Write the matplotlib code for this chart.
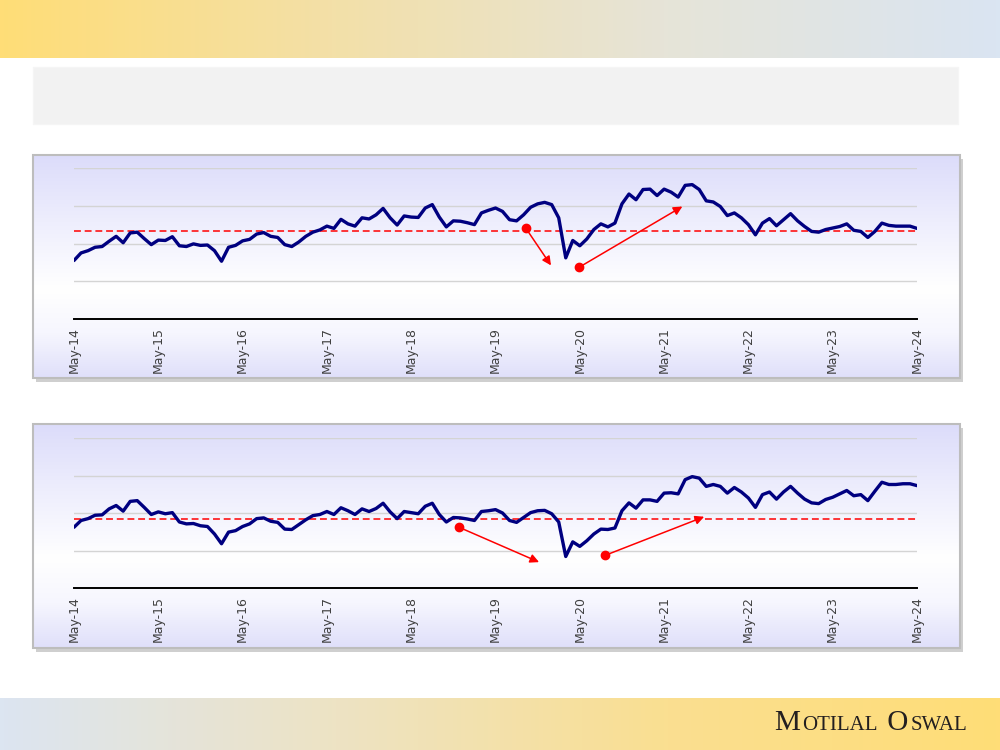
import numpy as np
import matplotlib
matplotlib.use("Agg")
import matplotlib.pyplot as plt
from matplotlib.colors import LinearSegmentedColormap
from matplotlib.patches import Rectangle
from matplotlib.offsetbox import TextArea, HPacker, AnchoredOffsetbox

# monthly series, May-14 .. May-24
months = np.arange(121)
tick_labels = ["May-14", "May-15", "May-16", "May-17", "May-18", "May-19",
               "May-20", "May-21", "May-22", "May-23", "May-24"]

top_series = [15.5, 17.5, 18.1, 19.0, 19.2, 20.6, 21.9, 20.2, 22.8, 23.0,
              21.3, 19.7, 20.9, 20.8, 21.8, 19.4, 19.2, 19.9, 19.5, 19.6,
              18.1, 15.3, 19.0, 19.5, 20.7, 21.1, 22.5, 22.9, 21.9, 21.6,
              19.7, 19.2, 20.4, 21.9, 23.0, 23.6, 24.6, 24.0, 26.4, 25.2,
              24.6, 26.8, 26.5, 27.6, 29.3, 26.8, 24.9, 27.3, 27.0, 26.9,
              29.4, 30.3, 27.0, 24.4, 26.0, 25.9, 25.5, 25.0, 28.1, 28.8,
              29.4, 28.5, 26.3, 26.0, 27.6, 29.6, 30.5, 30.9, 30.3, 26.8,
              16.2, 20.8, 19.4, 21.2, 23.7, 25.2, 24.4, 25.4, 30.5, 33.1,
              31.6, 34.3, 34.4, 32.7, 34.4, 33.6, 32.3, 35.4, 35.6, 34.3,
              31.3, 31.0, 29.8, 27.4, 28.1, 26.8, 25.0, 22.3, 25.4, 26.6,
              24.7, 26.3, 27.9, 26.0, 24.5, 23.2, 23.0, 23.7, 24.1, 24.5,
              25.2, 23.5, 23.2, 21.6, 23.2, 25.4, 24.8, 24.6, 24.6, 24.6,
              24.0]
top_avg = 23.3

bottom_series = [16.2, 18.0, 18.5, 19.4, 19.5, 21.1, 22.0, 20.5, 23.1, 23.3,
                 21.5, 19.6, 20.3, 19.8, 20.1, 17.6, 17.1, 17.2, 16.6, 16.4,
                 14.4, 11.8, 14.9, 15.3, 16.4, 17.1, 18.5, 18.7, 17.8, 17.5,
                 15.7, 15.6, 16.9, 18.2, 19.3, 19.6, 20.4, 19.6, 21.4, 20.6,
                 19.6, 21.1, 20.4, 21.2, 22.6, 20.3, 18.5, 20.4, 20.1, 19.8,
                 21.8, 22.6, 19.6, 17.6, 18.8, 18.7, 18.4, 18.0, 20.4, 20.6,
                 20.9, 20.0, 18.0, 17.5, 18.8, 20.1, 20.6, 20.7, 19.8, 17.6,
                 8.4, 12.3, 11.1, 12.6, 14.4, 15.7, 15.6, 16.0, 20.6, 22.7,
                 21.3, 23.5, 23.5, 23.1, 25.3, 25.4, 25.1, 28.9, 29.7, 29.3,
                 27.1, 27.6, 27.1, 25.3, 26.8, 25.6, 24.0, 21.5, 24.9, 25.6,
                 23.7, 25.6, 27.1, 25.3, 23.7, 22.7, 22.5, 23.6, 24.2, 25.1,
                 26.0, 24.6, 24.9, 23.3, 25.8, 28.2, 27.6, 27.6, 27.8, 27.8,
                 27.3]
bottom_avg = 18.4

# arrow annotations: (start month, start value, end month, end value)
top_arrows = [(64.3, 24.1, 67.9, 14.2), (71.9, 13.7, 86.6, 29.8)]
bottom_arrows = [(54.8, 16.2, 66.2, 6.9), (75.6, 8.7, 89.7, 19.0)]

W, H = 1000, 750
fig = plt.figure(figsize=(10, 7.5), dpi=100)
fig.patch.set_facecolor("white")


def frect(x0, y0, x1, y1):
    # pixel box (top-left origin) -> figure fraction rect
    return [x0 / W, 1 - y1 / H, (x1 - x0) / W, (y1 - y0) / H]


def gradient_ax(rect, colors, vertical=False, z=0):
    ax = fig.add_axes(rect, zorder=z)
    cmap = LinearSegmentedColormap.from_list("g", colors)
    g = np.linspace(0, 1, 256)
    arr = g.reshape(-1, 1) if vertical else g.reshape(1, -1)
    ax.imshow(arr, cmap=cmap, aspect="auto", extent=[0, 1, 0, 1], origin="upper")
    ax.set_axis_off()
    return ax


# header and footer bands
gradient_ax(frect(0, 0, 1000, 58), ["#FFDD77", "#F3E0A8", "#E6E4D8", "#DAE5F2"])
gradient_ax(frect(0, 698, 1000, 750), ["#DCE5F1", "#EDE3C4", "#FADF91", "#FFDD77"])

# grey title box
fig.patches.append(Rectangle((33 / W, 1 - 124 / H), 925 / W, 57 / H,
                             transform=fig.transFigure, facecolor="#F2F2F2",
                             edgecolor="#F5F5F5", lw=1, zorder=1))

# logo
parts = [("M", 21), ("OTILAL", 15), (" O", 21), ("SWAL", 15)]
boxes = [TextArea(t, textprops=dict(family="Liberation Serif", size=s, color="#231F20"))
         for t, s in parts]
pack = HPacker(children=boxes, align="baseline", pad=0, sep=1.5)
logo = AnchoredOffsetbox(loc="center", child=pack, frameon=False,
                         bbox_to_anchor=(871 / W, 1 - 723 / H),
                         bbox_transform=fig.transFigure, pad=0, borderpad=0)
fig.add_artist(logo)

panel_colors = [(0.0, "#DCDCFA"), (0.3, "#EEEEFD"), (0.6, "#FFFFFF"),
                (0.8, "#F6F6FE"), (1.0, "#DFDFFA")]


def make_panel(py0, py1, ax_top, ax_bot, series, avg, arrows):
    # shadow + border + gradient background
    fig.patches.append(Rectangle((36 / W, 1 - (py1 + 4) / H), 927 / W, (py1 - py0) / H,
                                 transform=fig.transFigure, facecolor="#CFCFCF",
                                 edgecolor="none", zorder=1))
    gradient_ax(frect(33, py0, 960, py1), panel_colors, vertical=True, z=2)
    fig.patches.append(Rectangle((33 / W, 1 - py1 / H), 927 / W, (py1 - py0) / H,
                                 transform=fig.transFigure, facecolor="none",
                                 edgecolor="#BDBDBD", lw=1.5, zorder=3))

    ax = fig.add_axes(frect(74, ax_top, 917, ax_bot), zorder=4)
    ax.patch.set_alpha(0)
    ax.plot(months, series, color="#000080", lw=2.4, solid_joinstyle="round",
            solid_capstyle="round", zorder=3)
    ax.axhline(avg, color="#FF0000", lw=1.1, dashes=(4.5, 2.5), zorder=2)
    for x0, y0, x1, y1 in arrows:
        ax.annotate("", xy=(x1, y1), xytext=(x0, y0),
                    arrowprops=dict(arrowstyle="-|>", color="#FF0000", lw=1.1,
                                    mutation_scale=13, shrinkA=0, shrinkB=0), zorder=4)
        ax.plot(x0, y0, "o", color="#FF0000", ms=6, zorder=5)

    ax.set_xlim(0, 120)
    ax.set_ylim(0, 40)
    ax.set_yticks([10, 20, 30, 40])
    ax.yaxis.grid(True, color="#D4D4D4", lw=1)
    ax.set_axisbelow(True)
    ax.tick_params(axis="y", left=False, labelleft=False)
    ax.set_xticks(np.arange(0, 121, 12))
    ax.set_xticklabels(tick_labels, rotation=90, fontsize=9, color="#404040")
    ax.tick_params(axis="x", length=0, pad=6)
    for s in ["top", "right", "left"]:
        ax.spines[s].set_visible(False)
    ax.spines["bottom"].set_color("black")
    ax.spines["bottom"].set_linewidth(1.4)
    ax.spines["bottom"].set_zorder(5)
    return ax


make_panel(155, 378, 168, 319, top_series, top_avg, top_arrows)
make_panel(424, 648, 438, 588, bottom_series, bottom_avg, bottom_arrows)

fig.savefig("out.png", dpi=100)
